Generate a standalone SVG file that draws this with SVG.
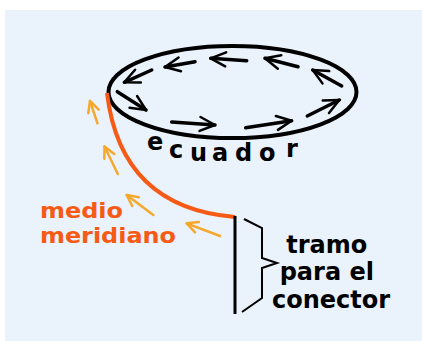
<svg xmlns="http://www.w3.org/2000/svg" width="422" height="341" viewBox="0 0 422 341">
  <style>
    .blk { stroke: #000; stroke-width: 3.5; stroke-linecap: round; fill: none; }
    .yel { stroke: #F5A82C; stroke-width: 2.5; stroke-linecap: round; fill: none; }
    .lbl { font-family: "DejaVu Sans", "Liberation Sans", sans-serif; font-weight: bold; font-size: 24px; }
    .org { fill: #F75A14; font-size: 21px; }
  </style>
  <defs>
    <marker id="hb" markerUnits="userSpaceOnUse" markerWidth="20" markerHeight="20" refX="0" refY="0" orient="auto" overflow="visible">
      <path d="M-15,-7 L0,0 L-15,7" fill="none" stroke="#000" stroke-width="2.5" stroke-linecap="round" stroke-linejoin="round"/>
    </marker>
    <marker id="hy" markerUnits="userSpaceOnUse" markerWidth="20" markerHeight="20" refX="0" refY="0" orient="auto" overflow="visible">
      <path d="M-11,-5.5 L0,0 L-11,5.5" fill="none" stroke="#F5A82C" stroke-width="2.5" stroke-linecap="round" stroke-linejoin="round"/>
    </marker>
  </defs>
  <rect x="5" y="10" width="417" height="331" fill="#EAF2FC"/>

  <g id="ecuador">
    <ellipse cx="232.5" cy="92" rx="124" ry="46" fill="none" stroke="#000" stroke-width="4"/>
    <text class="lbl" fill="#000">
      <tspan x="147" y="150">e</tspan>
      <tspan x="169" y="158">c</tspan>
      <tspan x="190" y="161">u</tspan>
      <tspan x="212" y="161">a</tspan>
      <tspan x="235" y="161">d</tspan>
      <tspan x="259" y="161">o</tspan>
      <tspan x="286" y="157">r</tspan>
    </text>
  </g>

  <g id="flechas-ecuador">
    <line class="blk" x1="151.7" y1="70" x2="124.3" y2="82.3" marker-end="url(#hb)"/>
    <line class="blk" x1="195" y1="61.7" x2="165" y2="67" marker-end="url(#hb)"/>
    <line class="blk" x1="246.7" y1="60.7" x2="210.7" y2="58.3" marker-end="url(#hb)"/>
    <line class="blk" x1="298" y1="66.7" x2="265" y2="58.3" marker-end="url(#hb)"/>
    <line class="blk" x1="341.7" y1="86" x2="312.7" y2="70" marker-end="url(#hb)"/>
    <line class="blk" x1="307.3" y1="116" x2="339.3" y2="100" marker-end="url(#hb)"/>
    <line class="blk" x1="245.7" y1="127.7" x2="291.7" y2="120.7" marker-end="url(#hb)"/>
    <line class="blk" x1="171.7" y1="122" x2="215" y2="125" marker-end="url(#hb)"/>
    <line class="blk" x1="117.3" y1="91.7" x2="146" y2="110" marker-end="url(#hb)"/>
  </g>

  <g id="meridiano">
    <path d="M107,93 C115,160 150,210 235,217" fill="none" stroke="#F75A14" stroke-width="4"/>
    <text class="lbl org" x="40" y="218" textLength="83" lengthAdjust="spacingAndGlyphs">medio</text>
    <text class="lbl org" x="40" y="243" textLength="136" lengthAdjust="spacingAndGlyphs">meridiano</text>
  </g>

  <g id="flechas-meridiano">
    <line class="yel" x1="97.5" y1="123.3" x2="90" y2="101" marker-end="url(#hy)"/>
    <line class="yel" x1="117.8" y1="174" x2="104.5" y2="146.5" marker-end="url(#hy)"/>
    <line class="yel" x1="153.3" y1="215" x2="126.7" y2="195" marker-end="url(#hy)"/>
    <line class="yel" x1="220" y1="236" x2="186.7" y2="223.3" marker-end="url(#hy)"/>
  </g>

  <g id="tramo">
    <line x1="235" y1="216" x2="235" y2="314" stroke="#000" stroke-width="3"/>
    <polyline points="244,219 262,228 262,258 277,263 262,268 262,298 242,312" fill="none" stroke="#000" stroke-width="2"/>
    <text class="lbl" fill="#000" text-anchor="middle">
      <tspan x="331" y="253">tramo</tspan>
      <tspan x="331" y="280">para el</tspan>
      <tspan x="331" y="308">conector</tspan>
    </text>
  </g>
</svg>
